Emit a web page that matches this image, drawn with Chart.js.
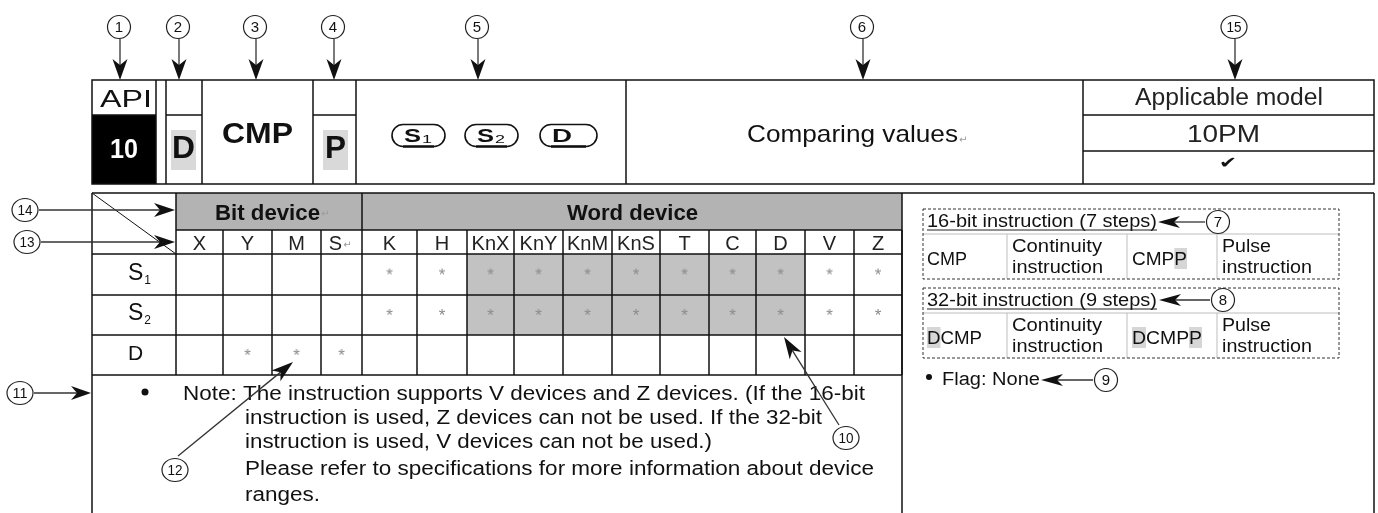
<!DOCTYPE html>
<html lang="en">
<head>
    <meta charset="UTF-8">
    <title>API 10 CMP – Comparing values</title>
    <style>
        html, body { margin: 0; padding: 0; background: #fff; }
        .chart-box { width: 1378px; height: 513px; position: relative; }
    </style>
</head>
<body>
    <div class="chart-box">
        <canvas id="cmpChart"></canvas>
    </div>

    <script src="https://cdn.jsdelivr.net/npm/chart.js"></script>
    <script>
        // Instruction header
        const apiNumber = '10';
        const mnemonic = 'CMP';
        const operandTags = [['S', '1'], ['S', '2'], ['D', '']];
        const functionName = 'Comparing values';
        const modelTitle = 'Applicable model';
        const models = ['10PM'];
        const modelSupport = [true];

        // Device table
        const groupNames = ['Bit device', 'Word device'];
        const bitDevices = ['X', 'Y', 'M', 'S'];
        const wordDevices = ['K', 'H', 'KnX', 'KnY', 'KnM', 'KnS', 'T', 'C', 'D', 'V', 'Z'];
        const devices = bitDevices.concat(wordDevices);
        const operands = [['S', '1'], ['S', '2'], ['D', '']];
        const useS1 = [0, 0, 0, 0, 1, 1, 1, 1, 1, 1, 1, 1, 1, 1, 1];
        const useS2 = [0, 0, 0, 0, 1, 1, 1, 1, 1, 1, 1, 1, 1, 1, 1];
        const useD  = [0, 1, 1, 1, 0, 0, 0, 0, 0, 0, 0, 0, 0, 0, 0];
        const shadeS1 = [0, 0, 0, 0, 0, 0, 1, 1, 1, 1, 1, 1, 1, 0, 0];
        const shadeS2 = [0, 0, 0, 0, 0, 0, 1, 1, 1, 1, 1, 1, 1, 0, 0];
        const shadeD  = [0, 0, 0, 0, 0, 0, 0, 0, 0, 0, 0, 0, 0, 0, 0];

        // Instruction variants (title, continuity mnemonic, pulse mnemonic)
        const steps16 = ['16-bit instruction (7 steps)', 'CMP', 'CMPP'];
        const steps32 = ['32-bit instruction (9 steps)', 'DCMP', 'DCMPP'];
        const marks16 = [[], [3]];
        const marks32 = [[0], [0, 4]];
        const variantTypes = [['Continuity', 'instruction'], ['Pulse', 'instruction']];
        const flagText = 'Flag: None';

        const noteLines = [
            'Note: The instruction supports V devices and Z devices. (If the 16-bit',
            'instruction is used, Z devices can not be used. If the 32-bit',
            'instruction is used, V devices can not be used.)',
            'Please refer to specifications for more information about device',
            'ranges.'
        ];

        // ---- layout (page units) ----
        const FONT = '"Liberation Sans", Arial, Helvetica, sans-serif';
        const H = { left: 92, top: 80, mid: 115, bottom: 184, right: 1374,
                    cols: [156, 166, 202, 313, 356, 626, 1083], modelRows: [115, 151] };
        const T = { top: 193, groupBottom: 230, left: 92, labelRight: 176, right: 902, panelRight: 1374, bottom: 513,
                    cols: [176, 223, 272, 321, 362, 417, 467, 514, 563, 612, 660, 709, 756, 805, 854, 902],
                    rows: [254, 295, 335, 375] };
        const noteLayout = [
            { x: 183, b: 400, w: 682 }, { x: 245, b: 424, w: 577 }, { x: 245, b: 448, w: 467 },
            { x: 245, b: 475, w: 629 }, { x: 245, b: 501, w: 75 }
        ];
        const ovalLayout = [[392, 445], [465, 518], [540, 597]];
        const boxLayout = [{ top: 209, line: 234, bottom: 279 }, { top: 288, line: 313, bottom: 358 }];
        const boxCols = [923, 1007, 1127, 1217, 1339];

        let X = v => v, Y = v => v;

        function rect(ctx, x1, y1, x2, y2, fill) {
            ctx.fillStyle = fill;
            ctx.fillRect(X(x1), Y(y1), X(x2) - X(x1), Y(y2) - Y(y1));
        }
        function line(ctx, x1, y1, x2, y2) {
            ctx.beginPath();
            ctx.moveTo(X(x1), Y(y1));
            ctx.lineTo(X(x2), Y(y2));
            ctx.stroke();
        }
        // draws text, optionally stretched to a given width; returns right edge
        function text(ctx, s, x, y, o) {
            o = o || {};
            ctx.save();
            ctx.font = o.font || ('18px ' + FONT);
            ctx.fillStyle = o.color || '#111';
            ctx.textBaseline = o.base || 'alphabetic';
            ctx.textAlign = 'left';
            const nat = ctx.measureText(s).width;
            const w = o.w || nat;
            let left = x;
            if (o.align === 'center') left = x - w / 2;
            ctx.translate(X(left), Y(y));
            ctx.scale(w / nat, 1);
            ctx.fillText(s, 0, 0);
            ctx.restore();
            return left + w;
        }
        function markedText(ctx, s, x, y, o, marks) {
            ctx.save();
            ctx.font = o.font;
            const nat = ctx.measureText(s).width, sx = (o.w || nat) / nat;
            marks.forEach(i => {
                const a = ctx.measureText(s.slice(0, i)).width * sx;
                const b = ctx.measureText(s.slice(0, i + 1)).width * sx;
                rect(ctx, x + a, y - 17, x + b, y + 4, '#d6d6d6');
            });
            ctx.restore();
            text(ctx, s, x, y, o);
        }
        function returnMark(ctx, x, y) {
            text(ctx, '\u21B5', x, y, { font: '10px "DejaVu Sans"', color: '#9a9a9a', base: 'middle' });
        }
        function circled(ctx, n, cx, cy) {
            ctx.save();
            ctx.strokeStyle = '#222';
            ctx.lineWidth = 1.2;
            ctx.beginPath();
            ctx.ellipse(X(cx), Y(cy), n > 9 ? 13 : 11.5, 11.5, 0, 0, Math.PI * 2);
            ctx.stroke();
            ctx.restore();
            text(ctx, String(n), cx, cy + 1, { font: '15px ' + FONT, align: 'center', base: 'middle', color: '#111',
                                             w: n > 9 ? 15 : undefined });
        }
        function arrow(ctx, x1, y1, x2, y2, len, hw) {
            len = len || 20; hw = hw || 7;
            const a = Math.atan2(Y(y2) - Y(y1), X(x2) - X(x1));
            const ca = Math.cos(a), sa = Math.sin(a);
            const tx = X(x2), ty = Y(y2);
            const bx = tx - len * ca, by = ty - len * sa;
            ctx.save();
            ctx.strokeStyle = '#333';
            ctx.lineWidth = 1.3;
            ctx.beginPath();
            ctx.moveTo(X(x1), Y(y1));
            ctx.lineTo(bx + 6 * ca, by + 6 * sa);
            ctx.stroke();
            ctx.fillStyle = '#111';
            ctx.beginPath();
            ctx.moveTo(tx, ty);
            ctx.lineTo(bx - sa * hw, by + ca * hw);
            ctx.lineTo(bx + 6 * ca, by + 6 * sa);
            ctx.lineTo(bx + sa * hw, by - ca * hw);
            ctx.closePath();
            ctx.fill();
            ctx.restore();
        }

        const useRows = [useS1, useS2, useD];
        const shadeRows = [shadeS1, shadeS2, shadeD];

        // asterisk marks: one point per usable device/operand cell
        const starPoints = [];
        useRows.forEach((row, j) => row.forEach((u, i) => {
            if (u) starPoints.push({ x: (T.cols[i] + T.cols[i + 1]) / 2, y: (T.rows[j] + T.rows[j + 1]) / 2 });
        }));

        const starImg = document.createElement('canvas');
        starImg.width = 16; starImg.height = 16;
        (function () {
            const g = starImg.getContext('2d');
            g.font = '17px ' + FONT;
            g.fillStyle = '#8a8a8a';
            g.textAlign = 'center';
            const m = g.measureText('*');
            const mid = (m.actualBoundingBoxAscent - m.actualBoundingBoxDescent) / 2;
            g.fillText('*', 8, 5 + mid);
        })();

        const sheetPlugin = {
            id: 'cmpSheet',
            beforeDatasetsDraw(c) {
                const ctx = c.ctx;
                X = v => c.scales.x.getPixelForValue(v);
                Y = v => c.scales.y.getPixelForValue(v);
                ctx.save();

                // fills
                rect(ctx, H.left, H.mid, H.cols[0], H.bottom, '#000');
                rect(ctx, 171, 130, 196, 170, '#d9d9d9');
                rect(ctx, 323, 130, 348, 170, '#d9d9d9');
                rect(ctx, T.labelRight, T.top, T.right, T.groupBottom, '#b3b3b3');
                shadeRows.forEach((row, j) => row.forEach((s, i) => {
                    if (s) rect(ctx, T.cols[i], T.rows[j], T.cols[i + 1], T.rows[j + 1], '#c2c2c2');
                }));

                // header grid
                ctx.strokeStyle = '#111';
                ctx.lineWidth = 1.5;
                ctx.strokeRect(X(H.left), Y(H.top), X(H.right) - X(H.left), Y(H.bottom) - Y(H.top));
                H.cols.forEach(x => line(ctx, x, H.top, x, H.bottom));
                line(ctx, H.left, H.mid, H.cols[0], H.mid);
                line(ctx, H.cols[1], H.mid, H.cols[2], H.mid);
                line(ctx, H.cols[3], H.mid, H.cols[4], H.mid);
                H.modelRows.forEach(y => line(ctx, H.cols[6], y, H.right, y));

                // lower frame
                line(ctx, T.left, T.top, T.panelRight, T.top);
                line(ctx, T.left, T.top, T.left, T.bottom);
                line(ctx, T.right, T.top, T.right, T.bottom);
                line(ctx, T.panelRight, T.top, T.panelRight, T.bottom);

                // device table grid
                const last = T.rows[T.rows.length - 1];
                line(ctx, T.labelRight, T.groupBottom, T.right, T.groupBottom);
                T.rows.forEach(y => line(ctx, T.left, y, T.right, y));
                T.cols.forEach((x, i) => {
                    const full = i === 0 || i === bitDevices.length;
                    line(ctx, x, full ? T.top : T.groupBottom, x, last);
                });
                ctx.lineWidth = 1;
                line(ctx, T.left, T.top, T.labelRight, T.rows[0]);

                // header texts
                text(ctx, 'API', 100, 107, { font: '23px ' + FONT, w: 52 });
                text(ctx, apiNumber, 110, 158, { font: 'bold 28px ' + FONT, color: '#fff', w: 28 });
                text(ctx, 'D', 172, 158, { font: 'bold 31px ' + FONT, w: 23 });
                text(ctx, mnemonic, 222, 143, { font: 'bold 29px ' + FONT, w: 71 });
                text(ctx, 'P', 325, 158, { font: 'bold 31px ' + FONT, w: 21 });

                operandTags.forEach((t, i) => {
                    const [x1, x2] = ovalLayout[i];
                    const yc = 135.5, r = 11;
                    ctx.lineWidth = 1.6;
                    ctx.beginPath();
                    ctx.moveTo(X(x1 + r), Y(yc - r));
                    ctx.lineTo(X(x2 - r), Y(yc - r));
                    ctx.arc(X(x2 - r), Y(yc), r, -Math.PI / 2, Math.PI / 2);
                    ctx.lineTo(X(x1 + r), Y(yc + r));
                    ctx.arc(X(x1 + r), Y(yc), r, Math.PI / 2, Math.PI * 1.5);
                    ctx.closePath();
                    ctx.stroke();
                    ctx.lineWidth = 2.4;
                    ctx.beginPath();
                    ctx.moveTo(X(x1 + r), Y(yc + r));
                    ctx.lineTo(X(x2 - r), Y(yc + r));
                    ctx.stroke();
                    if (t[1]) {
                        const e = text(ctx, t[0], x1 + 12, 142, { font: 'bold 18px ' + FONT, w: 17 });
                        text(ctx, t[1], e + 1, 143, { font: '11px ' + FONT, w: 10 });
                    } else {
                        text(ctx, t[0], x1 + 12, 142, { font: 'bold 18px ' + FONT, w: 20 });
                    }
                });

                const fe = text(ctx, functionName, 747, 142, { font: '24px ' + FONT, w: 211 });
                returnMark(ctx, fe + 1, 140);
                text(ctx, modelTitle, 1135, 105, { font: '23px ' + FONT, color: '#222', w: 188 });
                models.forEach(m => text(ctx, m, 1187, 142, { font: '23px ' + FONT, color: '#222', w: 73 }));
                modelSupport.forEach(ok => {
                    if (ok) text(ctx, '\u2714', 1228, 168, { font: '16px "DejaVu Sans"', align: 'center', w: 18 });
                });

                // table texts
                const be = text(ctx, groupNames[0], 215, 220, { font: 'bold 22px ' + FONT, w: 105 });
                returnMark(ctx, be + 1, 214);
                text(ctx, groupNames[1], 567, 220, { font: 'bold 22px ' + FONT, w: 131 });
                devices.forEach((d, i) => {
                    const cx = (T.cols[i] + T.cols[i + 1]) / 2;
                    if (d === 'S') {
                        const se = text(ctx, d, cx - 6, 250, { font: '20px ' + FONT, color: '#222', align: 'center' });
                        returnMark(ctx, se + 1, 245);
                    } else {
                        text(ctx, d, cx, 250, { font: '20px ' + FONT, color: '#222', align: 'center' });
                    }
                });
                operands.forEach((o, j) => {
                    const base = T.rows[j + 1] - 15;
                    const e = text(ctx, o[0], 128, base, { font: (o[1] ? '23px ' : '21px ') + FONT });
                    if (o[1]) text(ctx, o[1], e + 1, base + 4, { font: '12px ' + FONT });
                });

                // notes
                ctx.fillStyle = '#111';
                ctx.beginPath();
                ctx.arc(X(145), Y(392), 3.5, 0, Math.PI * 2);
                ctx.fill();
                noteLines.forEach((s, i) => {
                    const n = noteLayout[i];
                    text(ctx, s, n.x, n.b, { font: '20px ' + FONT, w: n.w });
                });

                // instruction variant boxes
                [[steps16, marks16], [steps32, marks32]].forEach(([st, mk], k) => {
                    const b = boxLayout[k];
                    ctx.strokeStyle = '#bdbdbd';
                    ctx.lineWidth = 1;
                    line(ctx, boxCols[0], b.line, boxCols[4], b.line);
                    boxCols.slice(1, 4).forEach(x => line(ctx, x, b.line, x, b.bottom));
                    ctx.strokeStyle = '#333';
                    ctx.setLineDash([3, 2]);
                    ctx.strokeRect(X(boxCols[0]), Y(b.top), X(boxCols[4]) - X(boxCols[0]), Y(b.bottom) - Y(b.top));
                    ctx.setLineDash([]);

                    const tb = b.top + 18;
                    const te = text(ctx, st[0], 927, tb, { font: '18px ' + FONT, w: 230 });
                    ctx.strokeStyle = '#222';
                    line(ctx, 927, tb + 3, te, tb + 3);

                    const rb = b.bottom - 14;
                    markedText(ctx, st[1], 927, rb, { font: '18px ' + FONT, w: k ? 55 : 40 }, mk[0]);
                    markedText(ctx, st[2], 1132, rb, { font: '18px ' + FONT, w: k ? 70 : 55 }, mk[1]);
                    text(ctx, variantTypes[0][0], 1012, rb - 13, { font: '18px ' + FONT, w: 90 });
                    text(ctx, variantTypes[0][1], 1012, rb + 8, { font: '18px ' + FONT, w: 91 });
                    text(ctx, variantTypes[1][0], 1222, rb - 13, { font: '18px ' + FONT, w: 49 });
                    text(ctx, variantTypes[1][1], 1222, rb + 8, { font: '18px ' + FONT, w: 90 });
                });

                ctx.fillStyle = '#111';
                ctx.beginPath();
                ctx.arc(X(929), Y(377), 3, 0, Math.PI * 2);
                ctx.fill();
                text(ctx, flagText, 942, 385, { font: '18px ' + FONT, w: 98 });

                ctx.restore();
            },
            afterDatasetsDraw(c) {
                const ctx = c.ctx;
                // numbered callouts
                [[1, 119], [2, 178], [3, 255], [4, 333], [5, 477], [6, 862], [15, 1234]].forEach(([n, x]) => {
                    circled(ctx, n, x, 27);
                    arrow(ctx, x + 1, 39, x + 1, H.top, 21, 7.5);
                });
                circled(ctx, 14, 25, 210);
                arrow(ctx, 39, 210, 175, 210, 21, 7);
                circled(ctx, 13, 27, 242);
                arrow(ctx, 41, 242, 175, 242, 21, 7);
                circled(ctx, 11, 20, 393);
                arrow(ctx, 34, 393, 91, 393, 20, 7);
                circled(ctx, 12, 175, 470);
                arrow(ctx, 178, 456, 293, 362, 22, 7);
                circled(ctx, 10, 846, 438);
                arrow(ctx, 839, 425, 784, 337, 22, 7);
                circled(ctx, 7, 1218, 222);
                arrow(ctx, 1205, 222, 1158, 222, 22, 6);
                circled(ctx, 8, 1223, 300);
                arrow(ctx, 1210, 300, 1159, 300, 22, 6);
                circled(ctx, 9, 1106, 380);
                arrow(ctx, 1093, 380, 1041, 380, 22, 6);
            }
        };

        const ctxSheet = document.getElementById('cmpChart').getContext('2d');
        const sheetChart = new Chart(ctxSheet, {
            type: 'scatter',
            data: {
                datasets: [{
                    label: 'Usable devices',
                    data: starPoints,
                    pointStyle: starImg,
                    pointRadius: 8,
                    pointHoverRadius: 8
                }]
            },
            options: {
                responsive: true,
                maintainAspectRatio: false,
                animation: false,
                events: [],
                layout: { padding: 0, autoPadding: false },
                plugins: {
                    legend: { display: false },
                    tooltip: { enabled: false }
                },
                scales: {
                    x: { type: 'linear', min: 0, max: 1378, display: false },
                    y: { type: 'linear', min: 0, max: 513, reverse: true, display: false }
                }
            },
            plugins: [sheetPlugin]
        });
    </script>
</body>
</html>
